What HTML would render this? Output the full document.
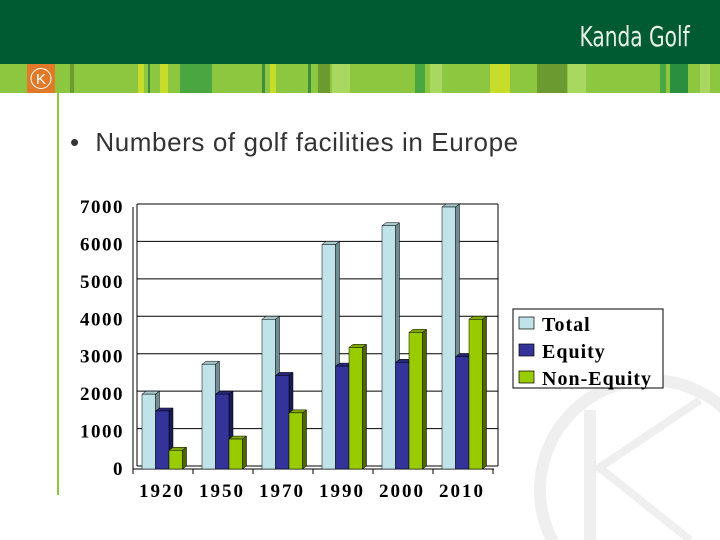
<!DOCTYPE html>
<html><head><meta charset="utf-8"><style>
html,body{margin:0;width:720px;height:540px;overflow:hidden;background:#fff;position:relative;font-family:"Liberation Sans",sans-serif}
</style></head><body>
<div style="position:absolute;left:0;top:0;width:720px;height:64px;background:#005a32"></div>
<div style="position:absolute;right:30px;top:20px;color:#e8f0e8;font-size:28px;font-family:'DejaVu Sans Condensed','Liberation Sans Narrow',sans-serif;font-weight:100;transform:scaleX(0.8);transform-origin:right">Kanda Golf</div>
<svg style="position:absolute;left:0;top:64px" width="720" height="29">
<rect width="720" height="29" fill="#8dc63f"/>
<rect x="70" width="4" height="29" fill="#6a9a30"/><rect x="138" width="6" height="29" fill="#c8dc2a"/>
<rect x="148" width="2" height="29" fill="#3d8f3a"/><rect x="160" width="8" height="29" fill="#c8dc2a"/>
<rect x="180" width="32" height="29" fill="#4aa640"/><rect x="262" width="3" height="29" fill="#3d8f3a"/>
<rect x="270" width="6" height="29" fill="#c8dc2a"/><rect x="308" width="3" height="29" fill="#3d8f3a"/>
<rect x="318" width="12" height="29" fill="#6a9a30"/><rect x="332" width="18" height="29" fill="#a8d860"/>
<rect x="415" width="10" height="29" fill="#4aa640"/><rect x="430" width="12" height="29" fill="#a8d860"/>
<rect x="490" width="20" height="29" fill="#c8dc2a"/><rect x="537" width="30" height="29" fill="#6a9a30"/>
<rect x="568" width="18" height="29" fill="#a8d860"/><rect x="660" width="6" height="29" fill="#4aa640"/>
<rect x="670" width="18" height="29" fill="#2a9040"/><rect x="700" width="10" height="29" fill="#a8d860"/>
<rect x="27" width="28" height="29" fill="#e07a28"/>
<circle cx="41" cy="14.5" r="10" fill="none" stroke="#fff" stroke-width="1"/>
<text x="41" y="20" text-anchor="middle" fill="#fff" font-size="15" font-family="Liberation Sans">K</text>
</svg>
<div style="position:absolute;left:57px;top:93px;width:2px;height:402px;background:#8dc63f"></div>
<svg style="position:absolute;left:0;top:0" width="720" height="540">
<circle cx="650" cy="490" r="110" fill="none" stroke="#efefef" stroke-width="12"/>
<line x1="590" y1="410" x2="590" y2="540" stroke="#efefef" stroke-width="12"/>
<line x1="596" y1="470" x2="700" y2="400" stroke="#efefef" stroke-width="8"/>
<line x1="600" y1="468" x2="690" y2="540" stroke="#efefef" stroke-width="8"/>
</svg>
<div style="position:absolute;left:70px;top:127px;font-size:26px;letter-spacing:0.6px;color:#333;white-space:nowrap">•&nbsp;&nbsp;Numbers of golf facilities in Europe</div>
<svg id="chart" style="position:absolute;left:0;top:0" width="720" height="540" font-family="Liberation Serif" font-weight="bold"></svg>
<script>
const categories=["1920","1950","1970","1990","2000","2010"];
const totalValues=[2000,2800,4000,6000,6500,7000];
const equityValues=[1550,2000,2500,2750,2850,3000];
const nonEquityValues=[500,800,1500,3250,3650,4000];
const yTicks=[0,1000,2000,3000,4000,5000,6000,7000];
const seriesNames=["Total","Equity","Non-Equity"];
const svg=document.getElementById('chart');const NS='http://www.w3.org/2000/svg';
function el(t,a,p){const e=document.createElementNS(NS,t);for(const k in a)e.setAttribute(k,a[k]);(p||svg).appendChild(e);return e;}
const y0=469,yTop=207,maxV=7000;
const y=v=>y0-(y0-yTop)*v/maxV;
const x=i=>142+60*i;
const dx=4,dy=3;
for(const t of yTicks){
  const g=el('line',{x1:137,x2:498,y1:y(t)-dy,y2:y(t)-dy,stroke:'#000','stroke-width':1});
  
  const l=el('text',{x:124,y:y(t)+6,'text-anchor':'end','font-size':19,'letter-spacing':1.5});
  l.textContent=t;
}
el('line',{x1:137,x2:137,y1:yTop-dy,y2:y0-dy,stroke:'#000'});
el('line',{x1:498,x2:498,y1:yTop-dy,y2:y0-dy,stroke:'#000'});
el('line',{x1:133,x2:133,y1:yTop,y2:y0+4,stroke:'#000'});
el('line',{x1:133,x2:494,y1:y0,y2:y0,stroke:'#000'});
el('line',{x1:137,x2:498,y1:y0-dy,y2:y0-dy,stroke:'#000'});
for(let i=0;i<=6;i++)el('line',{x1:133+60*i,x2:133+60*i,y1:y0,y2:y0+5,stroke:'#000'});
const cols=[["#bfe3e8","#6e8e94","#a8c8cc"],["#333399","#1a1a55","#27277a"],["#99cc00","#4d6600","#7fa800"]];
const series=[totalValues,equityValues,nonEquityValues];
categories.forEach((c,i)=>{
  series.forEach((s,j)=>{
    const bx=x(i)+j*13.5,w=13.5,top=y(s[i]),c3=cols[j];
    const g=el('g',{});
    
    
    el('polygon',{points:`${bx+w},${top} ${bx+w+dx},${top-dy} ${bx+w+dx},${y0-dy} ${bx+w},${y0}`,fill:c3[1],stroke:'#000','stroke-width':0.5},g);
    el('polygon',{points:`${bx},${top} ${bx+dx},${top-dy} ${bx+w+dx},${top-dy} ${bx+w},${top}`,fill:c3[2],stroke:'#000','stroke-width':0.5},g);
    el('rect',{x:bx,y:top,width:w,height:y0-top,fill:c3[0],stroke:'#000','stroke-width':0.5},g);
  });
  const t=el('text',{x:x(i)+20,y:497,'text-anchor':'middle','font-size':19,'letter-spacing':2});
  t.textContent=c;
});
const lg=el('g',{});
el('rect',{x:513,y:309,width:150,height:79,fill:'#fff',stroke:'#000'},lg);
seriesNames.forEach((n,j)=>{
  const e=el('g',{},lg);
  el('rect',{x:519,y:317+j*27,width:15,height:12,fill:cols[j][0],stroke:'#000','stroke-width':0.7},e);
  const t=el('text',{x:542,y:331+j*27,'font-size':20,'letter-spacing':1},e);t.textContent=n;
});
</script>
</body></html>
